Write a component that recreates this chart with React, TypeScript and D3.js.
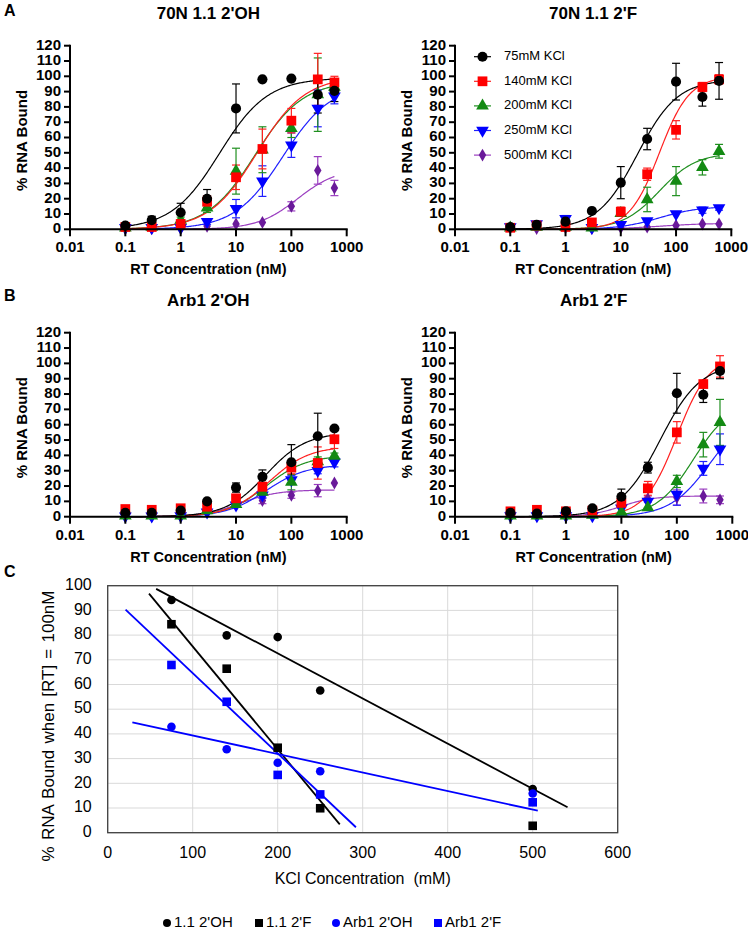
import React from 'react';
import * as d3 from 'd3';

// ---------- Data (panels A & B) ----------
const concentrations = [0.1, 0.3, 1, 3, 10, 30, 100, 300, 600];
const kclLabels = ['75mM KCl', '140mM KCl', '200mM KCl', '250mM KCl', '500mM KCl'];
const yTicks = [0, 10, 20, 30, 40, 50, 60, 70, 80, 90, 100, 110, 120];
const xTicks = [0.01, 0.1, 1, 10, 100, 1000];
const xTickLabels = ['0.01', '0.1', '1', '10', '100', '1000'];

// 70N 1.1 2'OH
const oh70Values = [
  [2.4, 6, 11, 20, 79, 98, 98.5, 88, 90.5],
  [1.5, 1.5, 3.5, 18, 34, 52.5, 71, 98, 96],
  [1, 1.5, 6, 14, 38, 52, 66, 88, 93],
  [1, 1, 1, 5, 13.5, 31.5, 55, 79, 87],
  [0.3, 0.3, 0.5, 2, 3.5, 4.5, 15, 38.5, 27],
];
const oh70Errors = [
  [1, 2.5, 6, 6, 16, 0, 0, 12, 7],
  [0.5, 0.5, 1, 4, 8, 13, 8, 17, 4],
  [0.5, 0.5, 2, 3, 15, 15, 6, 24, 4],
  [0.5, 0.5, 0.5, 2, 6, 10, 8, 12, 5],
  [0, 0, 0, 0.5, 1, 1, 3, 9, 5],
];
// Hill fit parameters [top, Kd, h]
const oh70Fits = [[99, 5, 1], [100, 24, 1], [97, 22, 1], [95, 70, 1], [40, 130, 1.2]];

// 70N 1.1 2'F
const f70Values = [
  [1.5, 3, 5, 12, 30.5, 59, 96.5, 86.5, 97],
  [1, 2.5, 1.5, 4.5, 11.5, 36, 65, 93, 98],
  [1, 1.5, 1.5, 1, 10.5, 19.5, 31.5, 40.5, 51],
  [1.5, 3.5, 7, 1, 3, 5.5, 10, 12.5, 14],
  [1, 0.5, 1, 0.5, 1, 1.5, 2.5, 3.5, 3.5],
];
const f70Errors = [
  [0.5, 1, 1, 1, 10.5, 7, 12, 6, 12],
  [0.5, 0.5, 0.5, 1, 3, 4, 6, 3, 3],
  [0.5, 0.5, 0.5, 0.5, 1, 8, 9.5, 5, 4.5],
  [0.5, 1, 2, 0.5, 1, 1, 1, 2, 1.5],
  [0.3, 0.3, 0.3, 0.3, 0.3, 0.3, 0.5, 0.5, 0.5],
];
const f70Fits = [[98, 20, 1.2], [100, 50, 1.6], [50, 50, 1.3], [15, 50, 1.2], [4, 50, 1]];

// Arb1 2'OH
const ohArbValues = [
  [2.5, 2.5, 4, 10, 19, 26, 35.5, 52.5, 57.5],
  [5, 4.5, 5.5, 6.5, 12, 19.5, 32, 35, 50.5],
  [0.5, 0.5, 0.5, 4, 8, 16, 22.5, 36, 39.5],
  [0.3, 0.3, 0.5, 3, 7.5, 14, 24, 30, 35.5],
  [0.3, 0.3, 0.3, 3, 8, 10.5, 14, 17, 22],
];
const ohArbErrors = [
  [0.5, 0.5, 1, 1, 3, 4.5, 11.5, 15, 1],
  [0.5, 0.5, 0.5, 1, 2, 3, 4, 10.5, 6],
  [0.3, 0.3, 0.3, 1, 1, 2, 5, 3, 2],
  [0.3, 0.3, 0.3, 1, 1, 2, 3, 2, 3],
  [0.3, 0.3, 0.3, 1, 1, 2, 2, 4, 1],
];
const ohArbFits = [[55, 35, 1.2], [46, 40, 1.2], [40, 35, 1.2], [34, 35, 1.2], [17.5, 12, 1.3]];

// Arb1 2'F
const fArbValues = [
  [2.5, 2, 3.5, 5.5, 13, 32, 80.5, 79.5, 95],
  [3.5, 4.5, 3.5, 4, 9, 18.5, 55, 86.5, 98],
  [0.5, 0.5, 0.5, 1, 3, 6, 23, 47, 61.5],
  [0.5, 0.5, 0.5, 0.5, 5.5, 10, 14.5, 31.5, 44],
  [0.5, 0.5, 0.5, 1, 7, 11.5, 12.5, 13.5, 11],
];
const fArbErrors = [
  [0.5, 0.5, 0.5, 1, 5, 3.5, 13, 5, 5],
  [0.5, 0.5, 0.5, 0.5, 3, 4.5, 7, 2, 7],
  [0.3, 0.3, 0.3, 0.5, 1, 1, 4, 8, 15],
  [0.3, 0.3, 0.3, 0.3, 1, 1, 7, 4.5, 10],
  [0.3, 0.3, 0.3, 0.5, 1, 2, 5, 4.5, 2.5],
];
const fArbFits = [[100, 50, 1.2], [105, 100, 1.5], [75, 200, 1.3], [70, 400, 1.2], [13.5, 10, 1.5]];

// ---------- Data (panel C) ----------
const kclConc = [75, 140, 200, 250, 500];
const c11OH = [94.2, 79.9, 79.2, 57.6, 17.7];
const c11F = [84.4, 66.4, 34.4, 9.9, 2.8];
const cArbOH = [42.9, 33.8, 28.3, 24.9, 15.9];
const cArbF = [67.9, 53, 23.4, 15.5, 12.3];
// trend line endpoints [x0, y0, x1, y1]
const trend11OH = [57, 98.7, 541, 10.3];
const trend11F = [48.6, 96.8, 273, 3.4];
const trendArbOH = [29, 44.7, 506, 8.9];
const trendArbF = [21, 90.3, 292, 2.2];
const cXTicks = [0, 100, 200, 300, 400, 500, 600];
const cYTicks = [0, 10, 20, 30, 40, 50, 60, 70, 80, 90, 100];
const cLegend = ["1.1 2'OH", "1.1 2'F", "Arb1 2'OH", "Arb1 2'F"];

// ---------- Styles ----------
const FONT = "'Liberation Sans', Arial, Helvetica, sans-serif";
const markerColors = ['#000000', '#ff0000', '#138a13', '#0000ff', '#6a1a9a'];
const lineColors = ['#000000', '#ff2020', '#1f8f1f', '#2020ff', '#9b3fc0'];
const symbolTypes = ['circle', 'square', 'triangle', 'triangleDown', 'diamond'];

function symbolPath(kind: string, cx: number, cy: number, scale = 1) {
  let type: any = d3.symbolCircle;
  let size = 80;
  let rotate = 0;
  if (kind === 'square') { type = d3.symbolSquare; size = 95; }
  if (kind === 'triangle') { type = d3.symbolTriangle; size = 70; }
  if (kind === 'triangleDown') { type = d3.symbolTriangle; size = 70; rotate = 180; }
  if (kind === 'diamond') { type = d3.symbolDiamond; size = 48; }
  const p = d3.symbol().type(type).size(size * scale)() as string;
  return { d: p, transform: `translate(${cx},${cy}) rotate(${rotate})` };
}

const hill = (x: number, f: number[]) => (f[0] * Math.pow(x, f[2])) / (Math.pow(f[1], f[2]) + Math.pow(x, f[2]));

type PanelProps = {
  title: string; x0: number; x1: number; y0: number; y1: number;
  values: number[][]; errors: number[][]; fits: number[][]; legend?: boolean;
};

function BindingPanel({ title, x0, x1, y0, y1, values, errors, fits, legend }: PanelProps) {
  const x = d3.scaleLog().domain([0.01, 1000]).range([x0, x1]);
  const y = d3.scaleLinear().domain([0, 120]).range([y0, y1]);
  const lmin = Math.log10(concentrations[0]);
  const lmax = Math.log10(concentrations[concentrations.length - 1]);
  const curveXs = d3.range(0, 201).map((i) => Math.pow(10, lmin + (i / 200) * (lmax - lmin)));
  const cx = (x0 + x1) / 2;
  const cy = (y0 + y1) / 2;
  const order = [4, 3, 2, 1, 0];
  return (
    <g>
      <text x={cx} y={y1 - 31} textAnchor="middle" dominantBaseline="middle" fontFamily={FONT} fontWeight="bold" fontSize={17}>{title}</text>
      {order.map((s) => {
        const gen = d3.line<number>().x((d) => x(d)).y((d) => y(hill(d, fits[s])));
        return <path key={'c' + s} d={gen(curveXs) as string} fill="none" stroke={lineColors[s]} strokeWidth={1.2} />;
      })}
      {order.map((s) => (
        <g key={'e' + s} stroke={lineColors[s]} strokeWidth={1.2}>
          {concentrations.map((c, i) => {
            const e = errors[s][i];
            if (e < 1.5) return null;
            const px = x(c);
            const top = y(values[s][i] + e);
            const bot = y(Math.max(0, values[s][i] - e));
            return (
              <g key={i}>
                <line x1={px} x2={px} y1={top} y2={bot} />
                <line x1={px - 4} x2={px + 4} y1={top} y2={top} />
                <line x1={px - 4} x2={px + 4} y1={bot} y2={bot} />
              </g>
            );
          })}
        </g>
      ))}
      {order.map((s) => (
        <g key={'m' + s} fill={markerColors[s]}>
          {concentrations.map((c, i) => {
            const sp = symbolPath(symbolTypes[s], x(c), y(values[s][i]));
            return <path key={i} d={sp.d} transform={sp.transform} />;
          })}
        </g>
      ))}
      <line x1={x0} x2={x0} y1={y0 + 1} y2={y1 - 1} stroke="#000" strokeWidth={2} />
      <line x1={x0 - 1} x2={x1 + 1} y1={y0} y2={y0} stroke="#000" strokeWidth={2} />
      {yTicks.map((t) => (
        <g key={'yt' + t}>
          <line x1={x0 - 6} x2={x0} y1={y(t)} y2={y(t)} stroke="#000" strokeWidth={2} />
          <text x={x0 - 9} y={y(t)} textAnchor="end" dominantBaseline="middle" fontFamily={FONT} fontWeight="bold" fontSize={15}>{t}</text>
        </g>
      ))}
      {xTicks.map((t, i) => (
        <g key={'xt' + t}>
          <line x1={x(t)} x2={x(t)} y1={y0} y2={y0 + 7} stroke="#000" strokeWidth={2} />
          <text x={x(t)} y={y0 + 19} textAnchor="middle" dominantBaseline="middle" fontFamily={FONT} fontWeight="bold" fontSize={15}>{xTickLabels[i]}</text>
        </g>
      ))}
      <text x={cx} y={y0 + 41} textAnchor="middle" dominantBaseline="middle" fontFamily={FONT} fontWeight="bold" fontSize={14.5}>RT Concentration (nM)</text>
      <text transform={`translate(${x0 - 47},${cy + 3}) rotate(-90)`} textAnchor="middle" dominantBaseline="middle" fontFamily={FONT} fontWeight="bold" fontSize={15}>% RNA Bound</text>
      {legend && kclLabels.map((lab, s) => {
        const ly = y1 + 11 + s * 24.6;
        const lx = x0 + 19;
        const sp = symbolPath(symbolTypes[s], lx + 8.5, ly);
        return (
          <g key={'lg' + s}>
            <line x1={lx} x2={lx + 17} y1={ly} y2={ly} stroke={lineColors[s]} strokeWidth={1.2} />
            <path d={sp.d} transform={sp.transform} fill={markerColors[s]} />
            <text x={lx + 30} y={ly} dominantBaseline="middle" fontFamily={FONT} fontSize={13}>{lab}</text>
          </g>
        );
      })}
    </g>
  );
}

function ScatterPanel() {
  const left = 107.7, right = 617.7, top = 585.7, bottom = 832.7;
  const x = d3.scaleLinear().domain([0, 600]).range([left, right]);
  const y = d3.scaleLinear().domain([0, 100]).range([bottom, top]);
  const sets = [
    { vals: c11OH, color: '#000', kind: 'circle', trend: trend11OH },
    { vals: c11F, color: '#000', kind: 'square', trend: trend11F },
    { vals: cArbOH, color: '#0000ff', kind: 'circle', trend: trendArbOH },
    { vals: cArbF, color: '#0000ff', kind: 'square', trend: trendArbF },
  ];
  const legendX = [163, 255, 332, 434];
  return (
    <g>
      {cXTicks.map((t) => (
        <line key={'gx' + t} x1={x(t)} x2={x(t)} y1={top} y2={bottom} stroke="#d9d9d9" strokeWidth={1} />
      ))}
      {cYTicks.map((t) => (
        <line key={'gy' + t} x1={left} x2={right} y1={y(t)} y2={y(t)} stroke="#d9d9d9" strokeWidth={1} />
      ))}
      <rect x={left} y={top} width={right - left} height={bottom - top} fill="none" stroke="#404040" strokeWidth={1.3} />
      {sets.map((s, i) => (
        <line key={'tr' + i} x1={x(s.trend[0])} y1={y(s.trend[1])} x2={x(s.trend[2])} y2={y(s.trend[3])} stroke={s.color} strokeWidth={1.8} />
      ))}
      {sets.map((s, i) => (
        <g key={'pts' + i} fill={s.color}>
          {kclConc.map((c, j) => (
            s.kind === 'circle'
              ? <circle key={j} cx={x(c)} cy={y(s.vals[j])} r={4.3} />
              : <rect key={j} x={x(c) - 4.3} y={y(s.vals[j]) - 4.3} width={8.6} height={8.6} />
          ))}
        </g>
      ))}
      {cXTicks.map((t) => (
        <text key={'xl' + t} x={x(t)} y={bottom + 21} textAnchor="middle" dominantBaseline="middle" fontFamily={FONT} fontSize={16}>{t}</text>
      ))}
      {cYTicks.map((t) => (
        <text key={'yl' + t} x={left - 16} y={y(t)} textAnchor="end" dominantBaseline="middle" fontFamily={FONT} fontSize={16}>{t}</text>
      ))}
      <text x={(left + right) / 2} y={880} textAnchor="middle" dominantBaseline="middle" fontFamily={FONT} fontSize={16} style={{ whiteSpace: 'pre' }}>{'KCl Concentration  (mM)'}</text>
      <text transform={`translate(50,726) rotate(-90)`} textAnchor="middle" dominantBaseline="middle" fontFamily={FONT} fontSize={17} wordSpacing={1.5}>% RNA Bound when [RT] = 100nM</text>
      {cLegend.map((lab, i) => (
        <g key={'cl' + i} fill={sets[i].color}>
          {sets[i].kind === 'circle'
            ? <circle cx={legendX[i] + 4} cy={923} r={4} />
            : <rect x={legendX[i]} y={919} width={8} height={8} />}
          <text x={legendX[i] + 11} y={923} dominantBaseline="middle" fontFamily={FONT} fontSize={15} fill="#000">{lab}</text>
        </g>
      ))}
    </g>
  );
}

export default function App() {
  return (
    <svg width={748} height={931} style={{ position: 'absolute', left: 0, top: 0, background: '#fff' }}>
      <rect x={0} y={0} width={748} height={931} fill="#fff" />
      <text x={4} y={12} dominantBaseline="middle" fontFamily={FONT} fontWeight="bold" fontSize={16}>A</text>
      <text x={4} y={297} dominantBaseline="middle" fontFamily={FONT} fontWeight="bold" fontSize={16}>B</text>
      <text x={4} y={573} dominantBaseline="middle" fontFamily={FONT} fontWeight="bold" fontSize={16}>C</text>
      <BindingPanel title="70N 1.1 2'OH" x0={70} x1={346.7} y0={229.3} y1={45.7} values={oh70Values} errors={oh70Errors} fits={oh70Fits} />
      <BindingPanel title="70N 1.1 2'F" x0={455} x1={731.3} y0={229.3} y1={45.7} values={f70Values} errors={f70Errors} fits={f70Fits} legend />
      <BindingPanel title="Arb1 2'OH" x0={70} x1={346.7} y0={516.7} y1={332.7} values={ohArbValues} errors={ohArbErrors} fits={ohArbFits} />
      <BindingPanel title="Arb1 2'F" x0={455} x1={732.3} y0={516.7} y1={332.7} values={fArbValues} errors={fArbErrors} fits={fArbFits} />
      <ScatterPanel />
    </svg>
  );
}
